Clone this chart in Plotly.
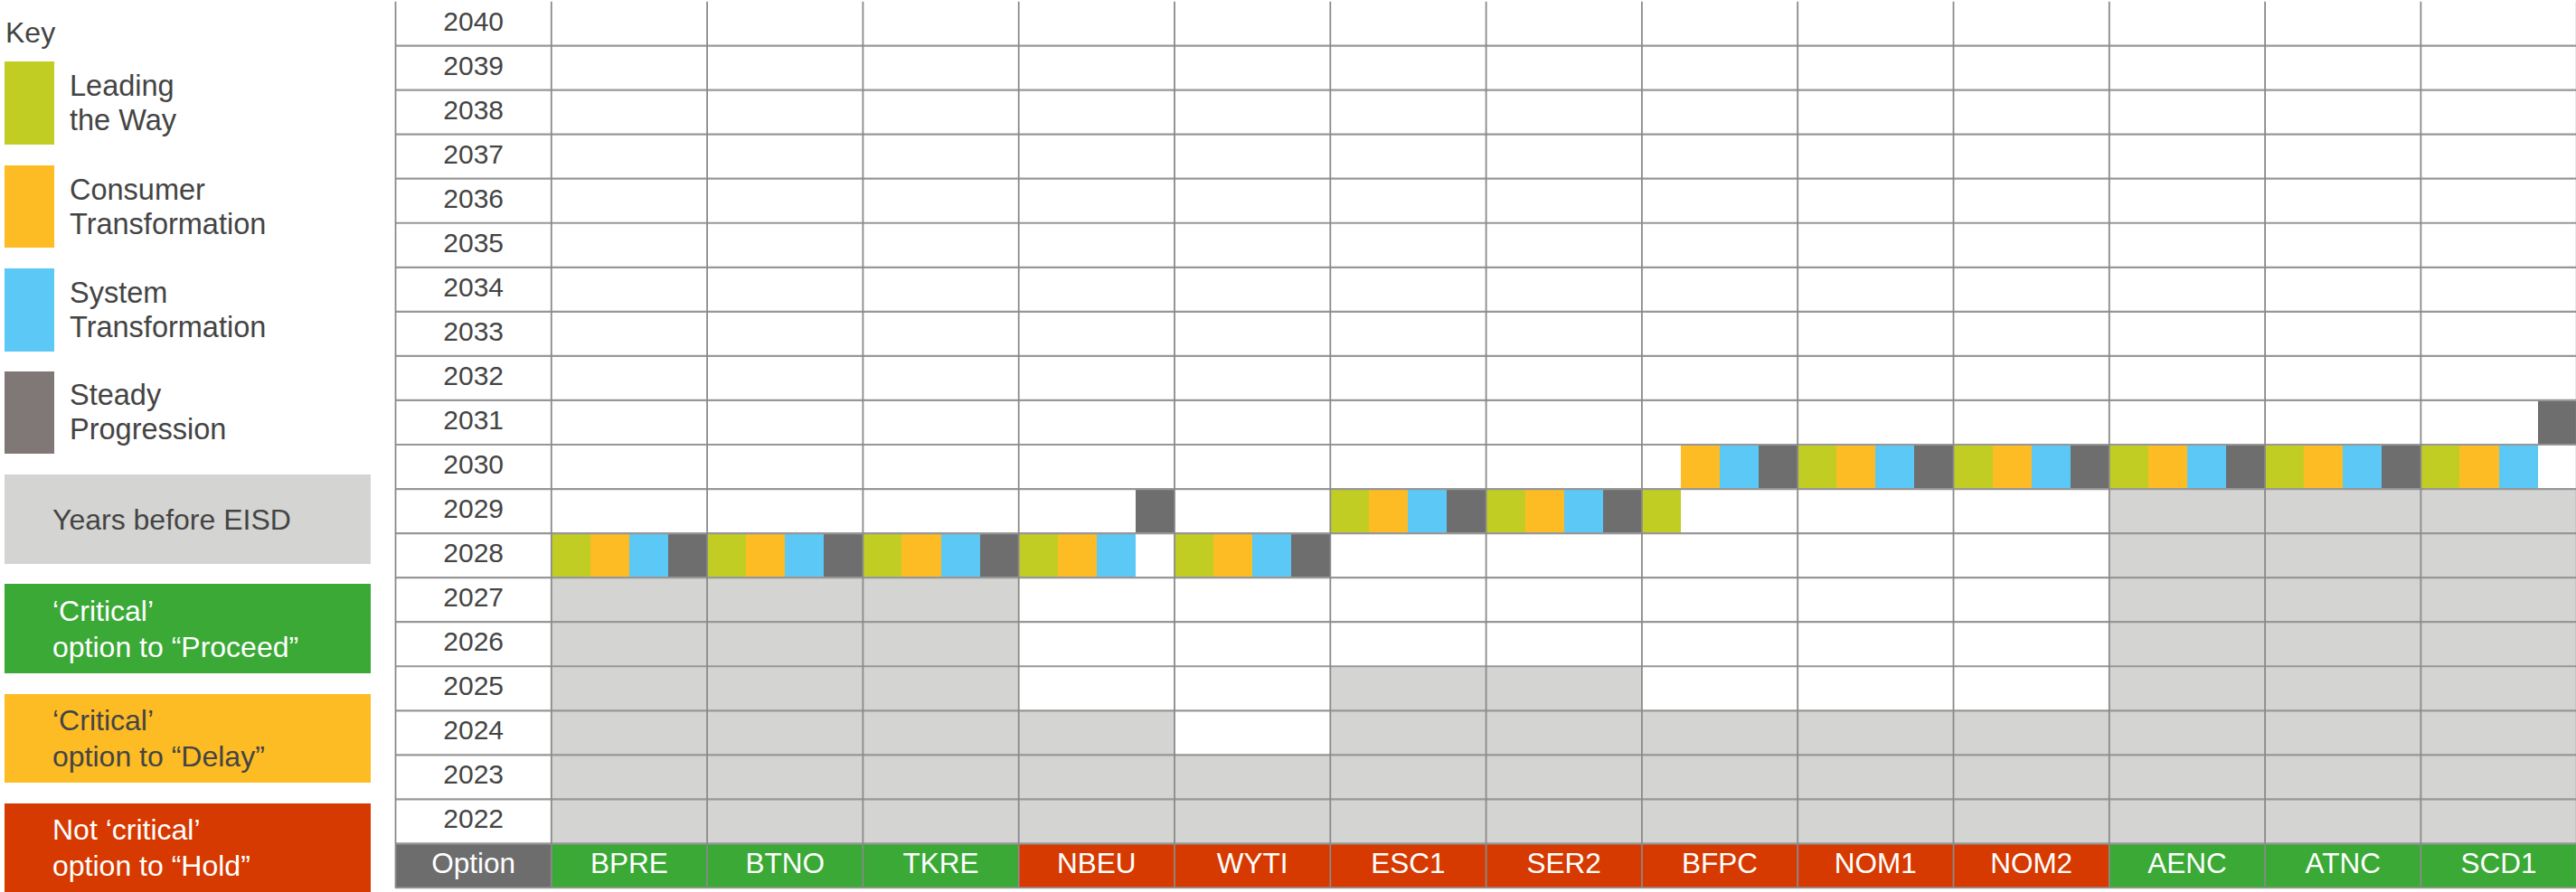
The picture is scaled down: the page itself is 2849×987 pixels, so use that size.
import plotly.graph_objects as go

# ---------------- data ----------------
options = ["BPRE", "BTNO", "TKRE", "NBEU", "WYTI", "ESC1", "SER2",
           "BFPC", "NOM1", "NOM2", "AENC", "ATNC", "SCD1"]
recommendation = ["Proceed", "Proceed", "Proceed", "Hold", "Hold", "Hold", "Hold",
                  "Hold", "Hold", "Hold", "Proceed", "Proceed", "Proceed"]
years = list(range(2022, 2041))
last_year_before_eisd = [2027, 2027, 2027, 2024, 2023, 2025, 2025,
                         2024, 2024, 2024, 2029, 2029, 2029]
scenarios = ["Leading the Way", "Consumer Transformation",
             "System Transformation", "Steady Progression"]
optimal_year_leading = [2028, 2028, 2028, 2028, 2028, 2029, 2029, 2029, 2030, 2030, 2030, 2030, 2030]
optimal_year_consumer = [2028, 2028, 2028, 2028, 2028, 2029, 2029, 2030, 2030, 2030, 2030, 2030, 2030]
optimal_year_system = [2028, 2028, 2028, 2028, 2028, 2029, 2029, 2030, 2030, 2030, 2030, 2030, 2030]
optimal_year_steady = [2028, 2028, 2028, 2029, 2028, 2029, 2029, 2030, 2030, 2030, 2030, 2030, 2031]
scenario_years = [optimal_year_leading, optimal_year_consumer,
                  optimal_year_system, optimal_year_steady]

# ---------------- styles ----------------
W, H = 2849, 987
FONT = "Liberation Sans, Arial, Helvetica, sans-serif"
TXT = "#444444"
SCEN_COL = ["#C2CD23", "#FDBB24", "#5BC8F5", "#6E6E6E"]
KEY_SWATCH = ["#C2CD23", "#FDBB24", "#5BC8F5", "#807876"]
PRE_GRAY = "#D4D4D2"
DEC_COL = {"Proceed": "#3AA935", "Delay": "#FDBC24", "Hold": "#D63A00"}
HEAD_GRAY = "#6D6D6D"
GRID_V = "#8A8A8A"
GRID_H = "#979797"

COL_PX = 172.3
ROW_PX = 49.05
LEFT_PX = 437.5
BOTTOM_PX = 982.5

n = len(options)
xs = list(range(n))
header_y = years[0] - 1

fig = go.Figure()

# years before EISD shading
fig.add_trace(go.Bar(
    x=xs, base=[years[0] - 0.5] * n,
    y=[u - years[0] + 1 for u in last_year_before_eisd],
    width=1, marker=dict(color=PRE_GRAY, line=dict(width=0)),
    hoverinfo="skip"))

# scenario strips
for k, (name, yrs) in enumerate(zip(scenarios, scenario_years)):
    fig.add_trace(go.Bar(
        name=name,
        x=[j - 0.375 + 0.25 * k for j in xs],
        base=[y - 0.5 for y in yrs], y=[1] * n, width=0.25,
        marker=dict(color=SCEN_COL[k], line=dict(width=0))))

# header row (option names)
fig.add_trace(go.Bar(
    x=[-1] + xs, base=[header_y - 0.5] * (n + 1), y=[1] * (n + 1), width=1,
    marker=dict(color=[HEAD_GRAY] + [DEC_COL[r] for r in recommendation],
                line=dict(width=0)),
    hoverinfo="skip"))

# grid lines
vx, vy = [], []
for i in range(n + 2):
    xv = -1.5 + i
    vx += [xv, xv, None]
    vy += [header_y - 0.5, years[-1] + 0.5, None]
hx, hy = [], []
for i in range(len(years) + 1):
    yv = header_y - 0.5 + i
    hx += [-1.5, n - 0.5, None]
    hy += [yv, yv, None]
fig.add_trace(go.Scatter(x=hx, y=hy, mode="lines",
                         line=dict(color=GRID_H, width=2.2), hoverinfo="skip"))
fig.add_trace(go.Scatter(x=vx, y=vy, mode="lines",
                         line=dict(color=GRID_V, width=1.8), hoverinfo="skip"))

# year labels
fig.add_trace(go.Scatter(
    x=[-1] * len(years), y=years, mode="text", text=[str(y) for y in years],
    textfont=dict(family=FONT, size=30, color=TXT), hoverinfo="skip"))
# header labels
fig.add_trace(go.Scatter(
    x=[-1] + xs, y=[header_y] * (n + 1), mode="text", text=["Option"] + options,
    textfont=dict(family=FONT, size=31.5, color="white"), hoverinfo="skip"))

# axes
x_left = -1.52
x0_px = LEFT_PX + (x_left + 1.5) * COL_PX
x_right = -1.5 + (W - LEFT_PX) / COL_PX
y_bottom = header_y - 0.52
y_top = years[-1] + 0.5
yb_px = BOTTOM_PX - (y_bottom - (header_y - 0.5)) * ROW_PX
yt_px = BOTTOM_PX - (y_top - (header_y - 0.5)) * ROW_PX
if yt_px < 0:
    y_top = (header_y - 0.5) + BOTTOM_PX / ROW_PX
    yt_px = 0

fig.update_layout(
    width=W, height=H, margin=dict(l=0, r=0, t=0, b=0),
    paper_bgcolor="white", plot_bgcolor="white",
    showlegend=False, barmode="overlay", bargap=0,
    xaxis=dict(range=[x_left, x_right], domain=[x0_px / W, 1],
               visible=False, fixedrange=True),
    yaxis=dict(range=[y_bottom, y_top],
               domain=[1 - yb_px / H, 1 - yt_px / H],
               visible=False, fixedrange=True),
)

# ---------------- key (left panel) ----------------
def px(x):
    return x / W


def py(y):
    return 1 - y / H


shapes = []
annots = []


def label(x, y, text, color=TXT, size=32):
    annots.append(dict(x=px(x), y=py(y), xref="paper", yref="paper",
                       text=text, showarrow=False, xanchor="left", yanchor="middle",
                       font=dict(family=FONT, size=size, color=color)))


label(4, 36, "Key", size=32)

swatch_boxes = [(68, 160), (183, 274), (297, 389), (411, 502)]
key_lines = [["Leading", "the Way"], ["Consumer", "Transformation"],
             ["System", "Transformation"], ["Steady", "Progression"]]
for (y0, y1), col, lines in zip(swatch_boxes, KEY_SWATCH, key_lines):
    shapes.append(dict(type="rect", xref="paper", yref="paper",
                       x0=px(5), x1=px(60), y0=py(y1), y1=py(y0),
                       fillcolor=col, line=dict(width=0)))
    mid = (y0 + y1) / 2
    label(75, mid - 19, lines[0], size=32.5)
    label(75, mid + 19, lines[1], size=32.5)

boxes = [
    ((525, 624), PRE_GRAY, ["Years before EISD"], TXT),
    ((646, 745), DEC_COL["Proceed"], ["\u2018Critical\u2019", "option to \u201cProceed\u201d"], "white"),
    ((768, 866), DEC_COL["Delay"], ["\u2018Critical\u2019", "option to \u201cDelay\u201d"], TXT),
    ((889, 987), DEC_COL["Hold"], ["Not \u2018critical\u2019", "option to \u201cHold\u201d"], "white"),
]
for (y0, y1), col, lines, tcol in boxes:
    shapes.append(dict(type="rect", xref="paper", yref="paper",
                       x0=px(5), x1=px(410), y0=py(y1), y1=py(y0),
                       fillcolor=col, line=dict(width=0)))
    mid = (y0 + y1) / 2
    if len(lines) == 1:
        label(56, mid, lines[0], color=tcol, size=32)
    else:
        label(56, mid - 20, lines[0], color=tcol, size=32)
        label(56, mid + 20, lines[1], color=tcol, size=32)

fig.update_layout(shapes=shapes, annotations=annots)

fig.write_html("out.html",
               config={"displayModeBar": False},
               post_script="document.body.style.margin='0px';"
                           "document.body.style.overflow='hidden';")
